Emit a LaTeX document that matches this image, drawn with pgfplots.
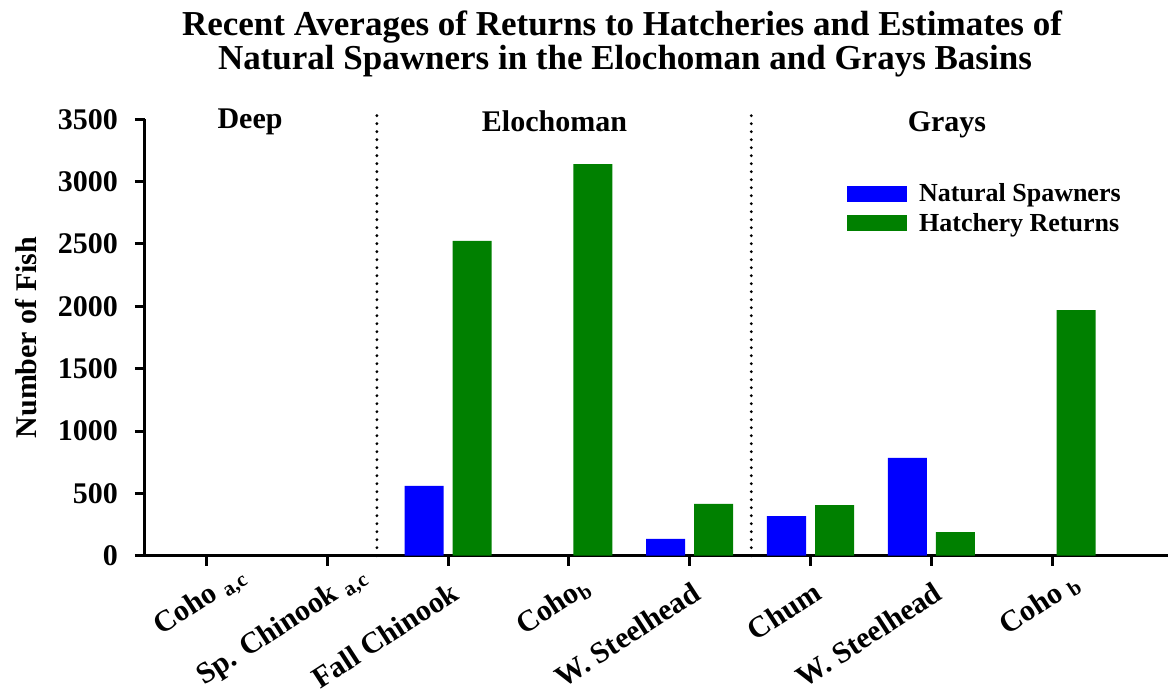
\documentclass[border=0pt]{standalone}
\usepackage{pgfplots}
\pgfplotsset{compat=1.18}
\usepackage{fontspec}
\setmainfont{Liberation Serif}
\definecolor{natblue}{RGB}{0,0,255}
\definecolor{hatgreen}{RGB}{0,128,0}
\begin{document}
\begin{tikzpicture}
\useasboundingbox (0,0) rectangle (584pt,346pt);
\node[anchor=base,font=\fontsize{17.5}{17.5}\selectfont\bfseries] at (311pt,328pt)
  {Recent Averages of Returns to Hatcheries and Estimates of};
\node[anchor=base,font=\fontsize{17.5}{17.5}\selectfont\bfseries] at (312.5pt,311pt)
  {Natural Spawners in the Elochoman and Grays Basins};
\begin{axis}[
  at={(72.5pt,68.15pt)}, anchor=south west,
  scale only axis, width=511.5pt, height=218.2pt,
  xmin=-0.51, xmax=7.96, ymin=0, ymax=3500,
  axis lines*=left,
  axis line style={line width=1.5pt},
  every tick/.style={black, line width=1.5pt},
  tick align=outside,
  major tick length=5pt,
  ytick={0,500,...,3500},
  xtick={0,...,7},
  xticklabels={{Coho\rlap{ \textsubscript{a,c}}}, {Sp. Chinook\rlap{ \textsubscript{a,c}}}, {Fall Chinook},
    {Coho\rlap{\textsubscript{b}}}, {W. Steelhead}, {Chum}, {W. Steelhead}, {Coho\rlap{ \textsubscript{b}}}},
  xticklabel style={rotate=33, anchor=north east, yshift=-3pt, font=\fontsize{15}{16}\selectfont\bfseries},
  yticklabel style={font=\fontsize{15}{16}\selectfont\bfseries, xshift=-5pt},
  /pgf/number format/assume math mode=true,
  /pgf/number format/1000 sep={},
  scaled ticks=false,
  ylabel={Number of Fish},
  ylabel style={font=\fontsize{15}{16}\selectfont\bfseries, at={(axis description cs:-0.116,0.5)}, anchor=center},
  ybar=4.5pt, bar width=19.5pt,
  clip=false,
  legend image code/.code={\fill[#1] (0pt,-4pt) rectangle (30pt,4pt);},
  legend style={at={(0.686,0.862)}, anchor=north west, draw=none, fill=none, inner sep=0pt,
    font=\fontsize{13}{14}\selectfont\bfseries, legend cell align=left,
    nodes={inner xsep=6pt}},
]
\addplot[fill=natblue, draw=none] coordinates {(2,560) (4,135) (5,318) (6,784)};
\addplot[fill=hatgreen, draw=none] coordinates {(2,2525) (3,3140) (4,415) (5,406) (6,190) (7,1970)};
\legend{Natural Spawners, Hatchery Returns}
\draw[line width=1.6pt, line cap=round, dash pattern=on 0pt off 4pt] (axis cs:1.41,0) -- (axis cs:1.41,3575);
\draw[line width=1.6pt, line cap=round, dash pattern=on 0pt off 4pt] (axis cs:4.51,0) -- (axis cs:4.51,3575);
\node[anchor=base, font=\fontsize{15}{16}\selectfont\bfseries] at (axis cs:0.36,3430) {Deep};
\node[anchor=base, font=\fontsize{15}{16}\selectfont\bfseries] at (axis cs:2.88,3400) {Elochoman};
\node[anchor=base, font=\fontsize{15}{16}\selectfont\bfseries] at (axis cs:6.13,3400) {Grays};
\end{axis}
\end{tikzpicture}
\end{document}
